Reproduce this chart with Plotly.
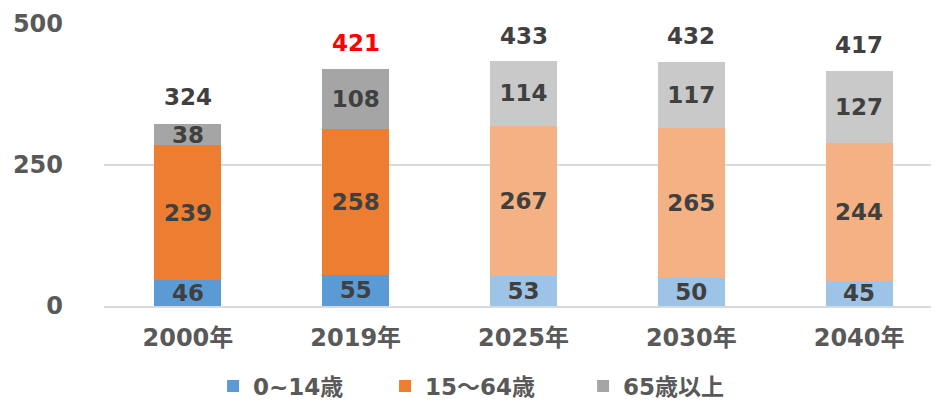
import plotly.graph_objects as go

categories = ["2000年", "2019年", "2025年", "2030年", "2040年"]
age_0_14 = [46, 55, 53, 50, 45]
age_15_64 = [239, 258, 267, 265, 244]
age_65_plus = [38, 108, 114, 117, 127]
totals = [324, 421, 433, 432, 417]
series_names = ["0~14歳", "15～64歳", "65歳以上"]

solid = ["#5B9BD5", "#ED7D31", "#A5A5A5"]
light = ["#9DC3E6", "#F4B183", "#C9C9C9"]
is_projection = [False, False, True, True, True]

FONT = "DejaVu Sans, Noto Sans CJK JP, sans-serif"
LABEL_COLOR = "#404040"
legend_ids = ["legend", "legend2", "legend3"]
legend_x = [0.130, 0.335, 0.571]

fig = go.Figure()
for name, vals, s, l, lid in zip(series_names, [age_0_14, age_15_64, age_65_plus], solid, light, legend_ids):
    colors = [l if p else s for p in is_projection]
    fig.add_trace(go.Bar(
        x=categories, y=vals, name=name, legend=lid,
        marker=dict(color=colors, line=dict(width=0)),
        text=[str(v) for v in vals], textposition="inside",
        insidetextanchor="middle", constraintext="none",
        textfont=dict(family=FONT, size=23, color=LABEL_COLOR, weight="bold"),
        textangle=0,
    ))

for c, t in zip(categories, totals):
    fig.add_annotation(
        x=c, y=t, text=str(t), showarrow=False, yanchor="middle", yshift=26,
        font=dict(family=FONT, size=23, color="#FF0000" if c == "2019年" else LABEL_COLOR, weight="bold"),
    )

legend_common = dict(orientation="h", xanchor="left", y=-0.284, yanchor="middle",
                     font=dict(family=FONT, size=23, color="#595959", weight="bold"),
                     bgcolor="rgba(0,0,0,0)")

fig.update_layout(
    width=935, height=393,
    margin=dict(l=96, r=0, t=16, b=95, autoexpand=False),
    barmode="stack", bargap=0.6,
    plot_bgcolor="white", paper_bgcolor="white",
    font=dict(family=FONT, color="#595959"),
    showlegend=True,
    legend=dict(x=legend_x[0], **legend_common),
    legend2=dict(x=legend_x[1], **legend_common),
    legend3=dict(x=legend_x[2], **legend_common),
)
fig.update_yaxes(range=[0, 500], tickvals=[0, 250, 500], showgrid=True, gridcolor="#D9D9D9",
                 gridwidth=1.5, zeroline=False, showline=False, automargin=False,
                 tickfont=dict(family=FONT, size=24, color="#595959", weight="bold"),
                 ticklabelstandoff=40)
fig.update_xaxes(showline=True, linecolor="#D9D9D9", linewidth=1.5, automargin=False,
                 tickfont=dict(family=FONT, size=24, color="#595959", weight="bold"),
                 ticklabelstandoff=9)

fig.write_html("out.html")
